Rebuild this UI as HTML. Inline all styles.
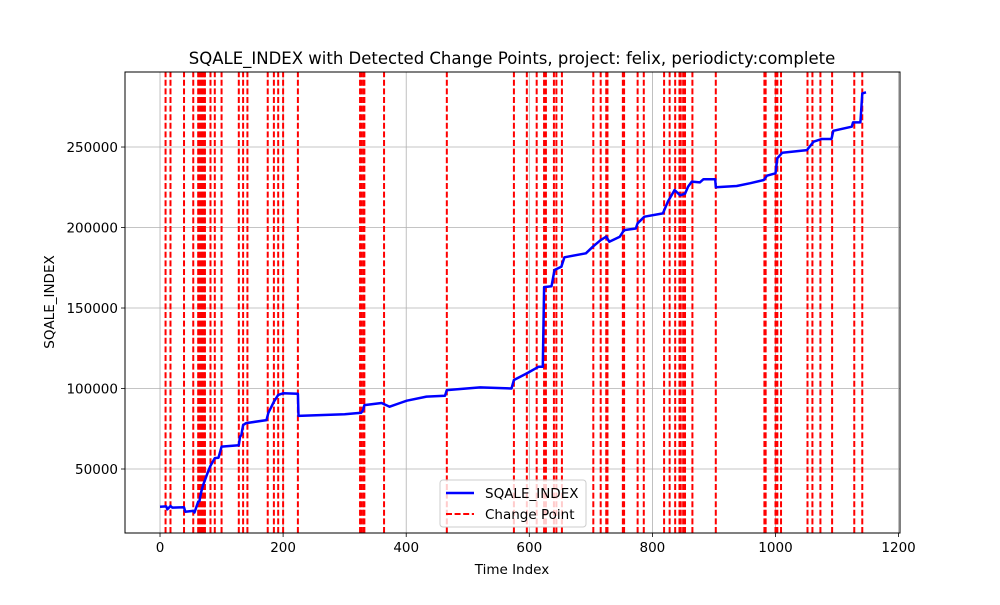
<!DOCTYPE html>
<html><head><meta charset="utf-8"><style>
body{margin:0;background:#fff;}
svg text{font-family:"DejaVu Sans","Liberation Sans",sans-serif;fill:#000;}
</style></head><body>
<svg id="chart" width="1000" height="600" xmlns="http://www.w3.org/2000/svg">
<rect width="1000" height="600" fill="#fff"/>
<text x="512" y="64" font-size="16.5" text-anchor="middle">SQALE_INDEX with Detected Change Points, project: felix, periodicty:complete</text>
<g id="grid"></g>
<g id="cps"></g>
<g id="series"></g>
<rect x="125" y="72" width="775" height="461" fill="none" stroke="#000" stroke-width="1"/>
<g id="xticks"></g>
<g id="yticks"></g>
<text x="512" y="574" font-size="13.5" text-anchor="middle">Time Index</text>
<text transform="translate(54,302) rotate(-90)" font-size="13.5" text-anchor="middle">SQALE_INDEX</text>
<g>
<rect x="440" y="480" width="146" height="47" rx="3" fill="#fff" fill-opacity="0.8" stroke="#ccc"/>
<line x1="446" y1="493" x2="474" y2="493" stroke="#0000ff" stroke-width="2.5"/>
<text x="485" y="498" font-size="13.5">SQALE_INDEX</text>
<line x1="446" y1="514" x2="474" y2="514" stroke="#ff0000" stroke-width="2" stroke-dasharray="6,2.6"/>
<text x="485" y="519" font-size="13.5">Change Point</text>
</g>
</svg>
<script>
const xTicks=[0,200,400,600,800,1000,1200];
const yTicks=[50000,100000,150000,200000,250000];
const changePoints=[9,17,39,54,62,64,66,68,70,72,73,82,89,100,128,135,142,175,185,192,200,224,325,327,330,332,364,466,575,596,612,624,627,640,644,653,704,716,725,727,752,754,776,786,819,828,837,844,846,850,853,865,903,982,984,1000,1003,1009,1052,1060,1073,1092,1128,1141];
const seriesIdx=[0,10,12,17,20,39,41,54,56,62,64,67,70,73,78,82,89,95,100,128,130,132,135,140,173,176,185,192,200,224,225,300,327,330,332,360,373,390,401,433,463,466,520,571,575,596,615,622,624,636,641,652,657,692,703,716,725,730,747,754,773,776,787,817,825,836,845,853,858,864,877,883,902,903,937,959,981,986,1000,1003,1011,1051,1062,1075,1091,1094,1124,1126,1138,1141,1147];
const seriesVal=[26600,26800,25000,27000,26000,26200,23500,24000,23000,29700,30000,36000,40000,43000,48300,52000,56800,57000,63900,64800,70000,71000,77300,78500,80400,84800,91800,96000,97000,96800,83000,84000,85000,86500,89700,91000,88700,91000,92400,95000,95500,99000,100700,100000,105300,109400,113500,113500,163000,163500,173600,175600,181500,184000,188000,192200,194300,191200,194300,198400,199400,202600,206700,208800,216000,223300,220000,221000,225400,228500,228000,230000,230000,225000,225800,227500,229500,232200,233700,243000,246500,248100,253300,255000,255000,260100,262600,265300,265300,283300,284000];
const X0=125,X1=900,Y0=533,Y1=72,xmin=-56.9,xmax=1202.3,ymin=10250,ymax=296600;
const sx=v=>X0+(v-xmin)/(xmax-xmin)*(X1-X0);
const sy=v=>Y0-(v-ymin)/(ymax-ymin)*(Y0-Y1);
const NS="http://www.w3.org/2000/svg";
function mk(tag,attrs,parent){const e=document.createElementNS(NS,tag);for(const k in attrs)e.setAttribute(k,attrs[k]);document.getElementById(parent).appendChild(e);return e;}
xTicks.forEach(t=>{
  const x=sx(t);
  const g=mk('line',{x1:x,x2:x,y1:Y1,y2:Y0,stroke:'#b0b0b0','stroke-width':0.8},'grid');
  
  
  const tk=mk('line',{x1:x,x2:x,y1:Y0,y2:Y0+4,stroke:'#000','stroke-width':0.8},'xticks');
  
  
  const tx=mk('text',{x:x,y:Y0+19,'font-size':13.5,'text-anchor':'middle'},'xticks');
  tx.textContent=t;
  
  
});
yTicks.forEach(t=>{
  const y=sy(t);
  const g=mk('line',{x1:X0,x2:X1,y1:y,y2:y,stroke:'#b0b0b0','stroke-width':0.8},'grid');
  
  
  const tk=mk('line',{x1:X0-4,x2:X0,y1:y,y2:y,stroke:'#000','stroke-width':0.8},'yticks');
  
  
  const tx=mk('text',{x:X0-7,y:y+5,'font-size':13.5,'text-anchor':'end'},'yticks');
  tx.textContent=t;
  
  
});
changePoints.forEach(c=>{
  const x=sx(c);
  const l=mk('line',{x1:x,x2:x,y1:Y0,y2:Y1,stroke:'#ff0000','stroke-width':2,'stroke-dasharray':'6,2.6'},'cps');
  
  
});
const pts=seriesIdx.map((d,i)=>sx(d).toFixed(1)+','+sy(seriesVal[i]).toFixed(1)).join(' ');
const pl=mk('polyline',{points:pts,fill:'none',stroke:'#0000ff','stroke-width':2.5,'stroke-linejoin':'round'},'series');


</script>
</body></html>
